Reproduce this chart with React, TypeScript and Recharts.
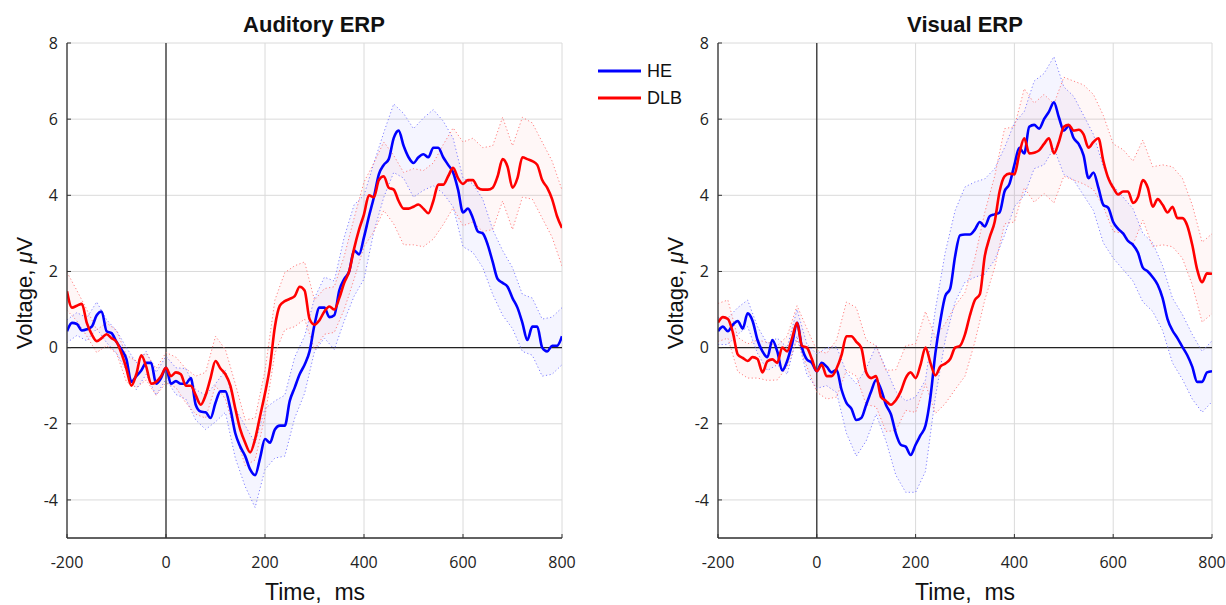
import React from "react";
import { Area, CartesianGrid, ComposedChart, Line, ReferenceLine, XAxis, YAxis } from "recharts";

// sampling: means every 10 ms from -200, band half-widths every 20 ms
const T_START = -200;
const MEAN_STEP = 10;
const SEM_STEP = 20;

const X_TICKS = [-200, 0, 200, 400, 600, 800];
const Y_TICKS = [-4, -2, 0, 2, 4, 6, 8];

// Auditory ERP, µV
const AUD_HE = [
  0.43, 0.65, 0.62, 0.45, 0.48, 0.55, 0.85, 0.95, 0.43, 0.38,
  0.15, -0.05, -0.3, -0.9, -0.75, -0.6, -0.4, -0.4, -0.95, -0.8,
  -0.53, -0.95, -0.88, -0.95, -0.95, -0.8, -1.5, -1.68, -1.7, -1.85,
  -1.45, -1.15, -1.15, -1.6, -2.25, -2.6, -2.85, -3.2, -3.35, -2.9,
  -2.4, -2.5, -2.15, -2.05, -2.05, -1.4, -1.05, -0.7, -0.45, -0.1,
  0.6, 1.05, 1.05, 0.8, 0.85, 1.5, 1.8, 2.0, 2.55, 2.45,
  2.9, 3.45, 3.95, 4.55, 4.8, 4.95, 5.5, 5.7, 5.3, 5.0,
  4.85, 5.0, 5.08, 5.0, 5.25, 5.25, 5.0, 4.8, 4.6, 4.15,
  3.55, 3.65, 3.4, 3.05, 3.0, 2.7, 2.25, 1.8, 1.7, 1.6,
  1.3, 1.05, 0.65, 0.2, 0.55, 0.55, 0.0, -0.1, 0.05, 0.05,
  0.3,
];
const AUD_DLB = [
  1.48, 1.05, 1.1, 1.15, 0.65, 0.35, 0.17, 0.25, 0.35, 0.25,
  0.15, -0.15, -0.55, -1.0, -0.7, -0.2, -0.5, -0.95, -0.9, -0.75,
  -0.53, -0.75, -0.65, -0.7, -1.0, -1.0, -1.25, -1.5, -1.25, -0.8,
  -0.35, -0.55, -0.7, -1.0, -1.6, -2.15, -2.5, -2.75, -2.4, -1.8,
  -1.2, -0.5, 0.55, 1.1, 1.22, 1.28, 1.35, 1.6, 1.5, 0.75,
  0.6, 0.72, 0.95, 1.08, 1.0, 1.3, 1.7, 2.0, 2.6, 3.1,
  3.5, 4.0, 3.95, 4.4, 4.5, 4.2, 4.15, 3.85, 3.65, 3.65,
  3.7, 3.76, 3.65, 3.53, 3.85, 4.28, 4.28, 4.5, 4.72, 4.45,
  4.3, 4.4, 4.4, 4.2, 4.15, 4.15, 4.2, 4.5, 4.95, 4.75,
  4.2, 4.45, 5.0, 4.95, 4.9, 4.8, 4.4, 4.2, 3.9, 3.45,
  3.14,
];
const AUD_HE_SEM = [
  0.3, 0.3, 0.3, 0.35, 0.3, 0.3, 0.3, 0.35, 0.3, 0.3,
  0.3, 0.35, 0.4, 0.4, 0.45, 0.5, 0.55, 0.65, 0.8, 0.85,
  0.8, 0.75, 0.8, 0.8, 0.75, 0.7, 0.8, 0.9, 1.1, 1.2,
  1.1, 0.9, 0.85, 0.9, 0.85, 0.9, 0.95, 1.0, 0.95, 0.9,
  0.9, 0.9, 0.9, 0.85, 0.85, 0.8, 0.75, 0.75, 0.75, 0.75,
  0.75,
];
const AUD_DLB_SEM = [
  0.5, 0.4, 0.35, 0.3, 0.3, 0.3, 0.35, 0.35, 0.35, 0.35,
  0.4, 0.4, 0.45, 0.5, 0.6, 0.65, 0.65, 0.65, 0.6, 0.55,
  0.6, 0.7, 0.75, 0.8, 0.75, 0.65, 0.6, 0.6, 0.7, 0.8,
  0.85, 0.9, 0.9, 0.9, 0.95, 1.0, 1.0, 1.0, 1.05, 1.05,
  1.1, 1.1, 1.1, 1.1, 1.1, 1.1, 1.05, 1.0, 1.0, 1.0,
  1.0,
];

// Visual ERP, µV
const VIS_HE = [
  0.43, 0.55, 0.43, 0.6, 0.7, 0.5, 0.9, 0.7, 0.2, -0.1,
  -0.25, 0.2, -0.1, -0.6, -0.35, 0.1, 0.65, 0.0, -0.31, -0.4,
  -0.62, -0.4, -0.5, -0.65, -0.58, -1.1, -1.45, -1.6, -1.9, -1.85,
  -1.5, -1.15, -0.85, -1.1, -1.5, -1.75, -2.25, -2.55, -2.6, -2.82,
  -2.55, -2.3, -2.05, -1.3, -0.15, 0.7, 1.35, 1.55, 2.4, 2.95,
  2.97, 2.97, 3.1, 3.3, 3.18, 3.45, 3.5, 3.55, 4.1, 4.3,
  4.8, 5.25, 5.1, 5.8, 5.85, 5.75, 6.0, 6.2, 6.44, 6.05,
  5.7, 5.82, 5.5, 5.35, 5.05, 4.45, 4.6, 4.2, 3.75, 3.67,
  3.3, 3.12, 3.0, 2.8, 2.7, 2.5, 2.1, 2.0, 1.85, 1.65,
  1.3, 0.75, 0.45, 0.25, 0.02, -0.2, -0.5, -0.9, -0.9, -0.65,
  -0.62,
];
const VIS_DLB = [
  0.66, 0.8, 0.75, 0.4, -0.18, -0.27, -0.35, -0.25, -0.3, -0.65,
  -0.36, -0.31, -0.4, 0.0, -0.1, 0.25, 0.65, 0.05, 0.0, -0.3,
  -0.62, -0.45, -0.75, -0.75, -0.55, -0.2, 0.3, 0.3, 0.15, 0.0,
  -0.65, -0.8, -0.75, -1.3, -1.4, -1.5, -1.38, -1.15, -0.8, -0.65,
  -0.8, -0.45, 0.0, -0.4, -0.73, -0.5, -0.42, -0.3, 0.0, 0.05,
  0.35, 0.85, 1.25, 1.4, 2.4, 2.9, 3.3, 4.1, 4.5, 4.57,
  4.55, 5.1, 5.5, 5.1, 5.12, 5.18, 5.35, 5.5, 5.1, 5.4,
  5.8, 5.85, 5.7, 5.72, 5.6, 5.25, 5.4, 5.5, 4.9, 4.45,
  4.2, 4.02, 4.1, 4.1, 3.8, 3.95, 4.4, 4.2, 3.7, 3.9,
  3.75, 3.55, 3.7, 3.4, 3.4, 3.2, 2.7, 2.05, 1.72, 1.95,
  1.94,
];
const VIS_HE_SEM = [
  0.35, 0.35, 0.35, 0.35, 0.35, 0.35, 0.35, 0.35, 0.35, 0.4,
  0.45, 0.5, 0.6, 0.8, 0.95, 0.95, 0.9, 0.95, 1.1, 1.2,
  1.25, 1.2, 1.15, 1.15, 1.2, 1.25, 1.25, 1.25, 1.2, 1.15,
  1.1, 1.1, 1.15, 1.2, 1.2, 1.15, 1.1, 1.05, 1.0, 1.0,
  0.95, 0.95, 0.95, 0.9, 0.9, 0.85, 0.85, 0.85, 0.85, 0.8,
  0.8,
];
const VIS_DLB_SEM = [
  0.5, 0.5, 0.45, 0.45, 0.5, 0.5, 0.45, 0.4, 0.45, 0.5,
  0.55, 0.6, 0.75, 0.9, 0.9, 0.85, 0.8, 0.8, 0.8, 0.85,
  0.9, 0.95, 1.0, 1.05, 1.1, 1.1, 1.1, 1.15, 1.2, 1.25,
  1.25, 1.3, 1.3, 1.3, 1.3, 1.3, 1.3, 1.3, 1.25, 1.2,
  1.15, 1.1, 1.1, 1.05, 1.05, 1.05, 1.05, 1.05, 1.05, 1.05,
  1.05,
];

const HE_COLOR = "#0000ff";
const DLB_COLOR = "#ff0000";
const TICK_FONT = { fontFamily: "Open Sans", fontSize: 16, fill: "#222" };
const LABEL_FONT = "'Liberation Sans', Arial, sans-serif";

type Pt = { t: number; v: number };
type Band = { t: number; lo: number; hi: number };

const toSeries = (vals: number[]): Pt[] => vals.map((v, i) => ({ t: T_START + i * MEAN_STEP, v }));

const toBand = (mean: number[], sem: number[]): Band[] =>
  sem.map((s, i) => {
    const m = mean[(i * SEM_STEP) / MEAN_STEP];
    return { t: T_START + i * SEM_STEP, lo: m - s, hi: m + s };
  });

type PanelProps = {
  he: number[];
  dlb: number[];
  heSem: number[];
  dlbSem: number[];
  width: number;
  rightMargin: number;
};

const ErpPanel: React.FC<PanelProps> = ({ he, dlb, heSem, dlbSem, width, rightMargin }) => {
  const heBand = toBand(he, heSem);
  const dlbBand = toBand(dlb, dlbSem);
  return (
    <ComposedChart width={width} height={605} margin={{ top: 43, right: rightMargin, bottom: 37, left: 27 }}>
      <CartesianGrid stroke="#dadada" strokeWidth={1} />
      <XAxis
        type="number"
        dataKey="t"
        domain={[-200, 800]}
        ticks={X_TICKS}
        allowDataOverflow
        height={30}
        tick={TICK_FONT}
        tickSize={-4}
        tickMargin={23}
        axisLine={{ stroke: "#333", strokeWidth: 1.3 }}
        tickLine={{ stroke: "#333" }}
      />
      <YAxis
        type="number"
        domain={[-5, 8]}
        ticks={Y_TICKS}
        allowDataOverflow
        width={40}
        tick={TICK_FONT}
        tickSize={-4}
        tickMargin={13}
        axisLine={{ stroke: "#333", strokeWidth: 1.3 }}
        tickLine={{ stroke: "#333" }}
      />
      <ReferenceLine x={0} stroke="#222" strokeWidth={1.2} />
      <ReferenceLine y={0} stroke="#222" strokeWidth={1.2} />

      <Area data={heBand} dataKey={(d: Band) => [d.lo, d.hi]} type="linear" stroke="none" fill="#5a5aff" fillOpacity={0.06} isAnimationActive={false} />
      <Area data={dlbBand} dataKey={(d: Band) => [d.lo, d.hi]} type="linear" stroke="none" fill="#ff5a5a" fillOpacity={0.05} isAnimationActive={false} />
      <Line data={heBand} dataKey="lo" type="linear" stroke="#8080ff" strokeWidth={1} strokeDasharray="1.2 2.4" dot={false} isAnimationActive={false} />
      <Line data={heBand} dataKey="hi" type="linear" stroke="#8080ff" strokeWidth={1} strokeDasharray="1.2 2.4" dot={false} isAnimationActive={false} />
      <Line data={dlbBand} dataKey="lo" type="linear" stroke="#ff8080" strokeWidth={1} strokeDasharray="1.2 2.4" dot={false} isAnimationActive={false} />
      <Line data={dlbBand} dataKey="hi" type="linear" stroke="#ff8080" strokeWidth={1} strokeDasharray="1.2 2.4" dot={false} isAnimationActive={false} />

      <Line data={toSeries(he)} dataKey="v" type="monotone" stroke={HE_COLOR} strokeWidth={2.6} dot={false} isAnimationActive={false} />
      <Line data={toSeries(dlb)} dataKey="v" type="monotone" stroke={DLB_COLOR} strokeWidth={2.6} dot={false} isAnimationActive={false} />
    </ComposedChart>
  );
};

const abs = (left: number, top: number): React.CSSProperties => ({ position: "absolute", left, top });

const YLabel = ({ x }: { x: number }) => (
  <div
    style={{
      ...abs(x, 293),
      transform: "translate(-50%, -50%) rotate(-90deg)",
      whiteSpace: "nowrap",
      fontFamily: LABEL_FONT,
      fontSize: 22,
      color: "#111",
    }}
  >
    Voltage, <i>μ</i>V
  </div>
);

const XLabel = ({ x }: { x: number }) => (
  <div style={{ ...abs(x, 592), transform: "translate(-50%, -50%)", whiteSpace: "pre", fontFamily: LABEL_FONT, fontSize: 23, color: "#111" }}>
    {"Time,  ms"}
  </div>
);

const Title = ({ x, text }: { x: number; text: string }) => (
  <div style={{ ...abs(x, 25), transform: "translate(-50%, -50%)", whiteSpace: "nowrap", fontFamily: LABEL_FONT, fontWeight: "bold", fontSize: 22, color: "#111" }}>
    {text}
  </div>
);

const LegendRow = ({ top, color, label }: { top: number; color: string; label: string }) => (
  <div style={{ ...abs(598, top - 11), display: "flex", alignItems: "center", height: 22 }}>
    <svg width={44} height={6}>
      <line x1={0} y1={3} x2={43} y2={3} stroke={color} strokeWidth={2.8} />
    </svg>
    <span style={{ marginLeft: 5, fontFamily: LABEL_FONT, fontSize: 18, color: "#111" }}>{label}</span>
  </div>
);

export default function App() {
  return (
    <div style={{ position: "absolute", left: 0, top: 0, width: 1226, height: 605, overflow: "hidden", background: "#fff" }}>
      <div style={abs(0, 0)}>
        <ErpPanel he={AUD_HE} dlb={AUD_DLB} heSem={AUD_HE_SEM} dlbSem={AUD_DLB_SEM} width={600} rightMargin={38} />
      </div>
      <div style={abs(651, 0)}>
        <ErpPanel he={VIS_HE} dlb={VIS_DLB} heSem={VIS_HE_SEM} dlbSem={VIS_DLB_SEM} width={575} rightMargin={14} />
      </div>
      <Title x={314} text="Auditory ERP" />
      <Title x={965} text="Visual ERP" />
      <YLabel x={25} />
      <YLabel x={676} />
      <XLabel x={315} />
      <XLabel x={965} />
      <LegendRow top={71} color={HE_COLOR} label="HE" />
      <LegendRow top={98} color={DLB_COLOR} label="DLB" />
    </div>
  );
}
